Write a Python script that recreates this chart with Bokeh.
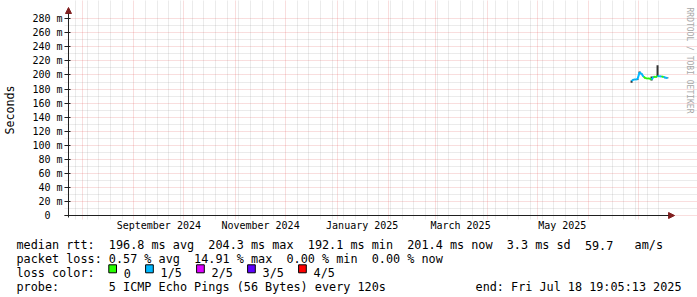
from datetime import datetime, timedelta
import math
import re
import pandas as pd
from bokeh.plotting import figure
from bokeh.layouts import column, row
from bokeh.models import (FixedTicker, DatetimeTickFormatter, Range1d, Label,
                          Arrow, NormalHead, ColumnDataSource)
from bokeh.core.properties import value
from bokeh.embed import file_html
from bokeh.resources import INLINE

# ---------------- data ----------------
graph_end = "2025-07-18 19:05:13"
graph_days = 360

sample_times = ["2025-06-26 14:00", "2025-06-27 19:00", "2025-06-28 23:00",
                "2025-06-30 04:00", "2025-07-01 09:00", "2025-07-02 14:00",
                "2025-07-03 19:00", "2025-07-04 23:00", "2025-07-06 04:00",
                "2025-07-07 09:00", "2025-07-08 14:00", "2025-07-09 19:00",
                "2025-07-10 23:00", "2025-07-12 04:00", "2025-07-13 09:00",
                "2025-07-14 14:00", "2025-07-15 19:00", "2025-07-16 23:00",
                "2025-07-18 04:00"]
median_rtt_ms = [191.5, 193.5, 193.5, 193.8, 204.0, 201.5, 197.5, 195.5, 194.8,
                 195.3, 193.5, 197.5, 197.0, 198.5, 198.2, 198.0, 197.2, 196.0,
                 195.8]
smoke_low_ms = [189.0, 193.0, 193.0, 193.3, 202.0, 201.0, 197.0, 195.0, 194.3,
                194.8, 192.0, 197.0, 196.5, 198.0, 197.7, 197.5, 196.7, 195.5,
                195.3]
smoke_high_ms = [192.0, 194.0, 194.0, 194.3, 205.0, 202.0, 198.0, 196.0, 195.3,
                 195.8, 198.0, 198.0, 197.5, 214.0, 198.7, 198.5, 197.7, 196.5,
                 196.3]
loss_index = [1, 1, 1, 1, 1, 1, 1, 0, 0, 0, 0, 1, 0, 0, 1, 1, 0, 1, 1]

loss_labels = ["0", "1/5", "2/5", "3/5", "4/5"]
loss_colors = ["#26ff00", "#00b8ff", "#dd00ff", "#5e00ff", "#ff0000"]

y_tick_values = [0, 20, 40, 60, 80, 100, 120, 140, 160, 180, 200, 220, 240, 260, 280]
y_max_ms = 287.5
month_label_days = ["2024-09-16", "2024-11-16", "2025-01-16", "2025-03-16", "2025-05-16"]

y_axis_title = "Seconds"
stat_rtt = "median rtt:  196.8 ms avg  204.3 ms max  192.1 ms min  201.4 ms now  3.3 ms sd  59.7   am/s"
stat_loss = "packet loss: 0.57 % avg  14.91 % max  0.00 % min  0.00 % now"
loss_title = "loss color:"
probe_text = "probe:       5 ICMP Echo Pings (56 Bytes) every 120s"
end_text = "end: Fri Jul 18 19:05:13 2025"
watermark = "RRDTOOL / TOBI OETIKER"

# ---------------- layout / style ----------------
W = 697
H1, H2 = 234, 63                       # graph part / legend part
DL, DR, DT, DB = 66, 668, 13, 215      # data area in page pixels
FL, FR, FT, FB = 62, 697, 0, 219       # frame in page pixels
MONO = "DejaVu Sans Mono"
AXIS_COL = "#1f1f1f"
ARROW_COL = "#801f1f"
MGRID_COL = "#de4f4f"
GRID_COL = "#8f8f8f"
EPOCH = datetime(1970, 1, 1)


def ms(d):
    return (d - EPOCH).total_seconds() * 1000.0


end_dt = datetime.strptime(graph_end, "%Y-%m-%d %H:%M:%S")
start_dt = end_dt - timedelta(days=graph_days)
xpp = (end_dt - start_dt) / (DR - DL)          # timedelta per pixel
ypp = y_max_ms / (DB - DT)                     # ms per pixel

month_starts = []
d = datetime(start_dt.year, start_dt.month, 1)
while d <= end_dt:
    if d >= start_dt:
        month_starts.append(d)
    d = datetime(d.year + (d.month // 12), d.month % 12 + 1, 1)
week_lines = []
d = datetime(start_dt.year, start_dt.month, start_dt.day)
while d <= end_dt:
    if d >= start_dt and d.weekday() == 6 and d.day != 1:
        week_lines.append(d)
    d += timedelta(days=1)

p1 = figure(width=W, height=H1, x_axis_type="datetime",
            output_backend="svg", toolbar_location=None,
            min_border_left=FL, min_border_right=W - FR,
            min_border_top=FT, min_border_bottom=H1 - FB,
            background_fill_color="white", border_fill_color="white")
p1.outline_line_color = None
p1.x_range = Range1d(start=start_dt - (DL - FL) * xpp, end=end_dt + (FR - DR) * xpp)
p1.y_range = Range1d(start=-(FB - DB) * ypp, end=y_max_ms + (DT - FT) * ypp)

# x axis (labels centred in the middle of every second month)
p1.xaxis.ticker = FixedTicker(ticks=[ms(datetime.strptime(s, "%Y-%m-%d")) for s in month_label_days])
fmt = "%B %Y"
p1.xaxis.formatter = DatetimeTickFormatter(
    microseconds=fmt, milliseconds=fmt, seconds=fmt, minsec=fmt, minutes=fmt,
    hourmin=fmt, hours=fmt, days=fmt, months=fmt, years=fmt,
    context=None, boundary_scaling=False)
p1.xaxis.major_tick_out = 0
p1.xaxis.major_tick_in = 0
p1.xaxis.minor_tick_out = 0
p1.xaxis.minor_tick_in = 0
p1.xaxis.major_label_standoff = 0
p1.xaxis.axis_line_color = None

# y axis
p1.yaxis.ticker = FixedTicker(ticks=y_tick_values,
                              minor_ticks=[v + 10 for v in y_tick_values if v + 10 < y_max_ms])
p1.yaxis.major_label_overrides = {v: (f"{v} m" if v else "0\u00a0\u00a0") for v in y_tick_values}
p1.yaxis.major_tick_out = 0
p1.yaxis.major_tick_in = DL - FL + 2
p1.yaxis.minor_tick_out = 0
p1.yaxis.minor_tick_in = 0
p1.yaxis.major_tick_line_color = AXIS_COL
p1.yaxis.major_label_standoff = 2
p1.yaxis.axis_line_color = None
p1.yaxis.axis_label = y_axis_title
p1.yaxis.axis_label_text_font = MONO
p1.yaxis.axis_label_text_font_size = "11.7px"
p1.yaxis.axis_label_text_font_style = "normal"
p1.yaxis.axis_label_text_color = "black"
p1.yaxis.axis_label_standoff = 12

for ax in (p1.xaxis, p1.yaxis):
    ax.major_label_text_font = MONO
    ax.major_label_text_font_size = "10px"
    ax.major_label_text_color = "black"

# grids, limited to the data area
p1.xgrid.ticker = FixedTicker(ticks=[ms(d) for d in month_starts],
                              minor_ticks=[ms(d) for d in week_lines])
p1.xgrid.bounds = (0, y_max_ms)
p1.ygrid.bounds = (ms(start_dt), ms(end_dt))
for g in (p1.xgrid, p1.ygrid):
    g.grid_line_color = MGRID_COL
    g.grid_line_alpha = 0.38
    g.grid_line_dash = "1 1"
    g.grid_line_width = 1
    g.minor_grid_line_color = GRID_COL
    g.minor_grid_line_alpha = 0.36
    g.minor_grid_line_dash = "1 1"
    g.minor_grid_line_width = 1

# ---------------- data glyphs ----------------
t = pd.to_datetime(sample_times)
step_ms = 1.2 * 86400 * 1000
smoke = ColumnDataSource(dict(t=t, lo=smoke_low_ms, hi=smoke_high_ms))
p1.vbar(x="t", width=step_ms, bottom="lo", top="hi", source=smoke,
        fill_color="#323232", line_color=None)
seg = ColumnDataSource(dict(
    x0=t[:-1], x1=t[1:], y0=median_rtt_ms[:-1], y1=median_rtt_ms[1:],
    c=[loss_colors[i] for i in loss_index[1:]]))
p1.segment(x0="x0", y0="y0", x1="x1", y1="y1", line_color="c", line_width=2,
           source=seg)

# ---------------- axis lines with arrows ----------------
p1.add_layout(Arrow(x_start=start_dt, y_start=-2 * ypp, x_end=start_dt, y_end=y_max_ms + 6 * ypp,
                    line_color=AXIS_COL, line_width=1,
                    end=NormalHead(size=6, fill_color=ARROW_COL, line_color=ARROW_COL)))
p1.add_layout(Arrow(x_start=start_dt - 4 * xpp, y_start=0, x_end=end_dt + 6 * xpp, y_end=0,
                    line_color=AXIS_COL, line_width=1,
                    end=NormalHead(size=6, fill_color=ARROW_COL, line_color=ARROW_COL)))

# watermark on the right
p1.add_layout(Label(x=687 - FL, y=FB - 60, x_units="screen", y_units="screen",
                    text=watermark, text_font=MONO, text_font_size="8px",
                    text_color="#a8a8a8", angle=-math.pi / 2,
                    text_align="center", text_baseline="middle"))

# ---------------- legend / statistics block ----------------
p2 = figure(width=W, height=H2, output_backend="svg", toolbar_location=None,
            x_axis_location=None, y_axis_location=None,
            min_border_left=0, min_border_right=0, min_border_top=0, min_border_bottom=0,
            background_fill_color="white", border_fill_color="white")
p2.outline_line_color = None
p2.grid.visible = False
p2.x_range = Range1d(0, W)
p2.y_range = Range1d(H2, 0)             # page pixels, measured from the top of this block

LEFT = 16
FS = 11.8
cw = 0.6021 * FS                         # monospace advance
rows_x, rows_y, rows_t = [], [], []


def add_line(s, x, base_y):
    # place each run of text at its character column (SVG collapses repeated spaces)
    for m in re.finditer(r"\S+(?: \S+)*", s):
        rows_x.append(x + m.start() * cw)
        rows_y.append(base_y - H1)
        rows_t.append(m.group())


add_line(stat_rtt, LEFT, 244.5)
add_line(stat_loss, LEFT, 258.5)
add_line(loss_title, LEFT, 272.5)
add_line(probe_text, LEFT, 286.5)

bl, br = [], []
box_x = 108.3
for lab in loss_labels:
    bl.append(box_x)
    br.append(box_x + 7.7)
    add_line(lab, box_x + 15.0, 272.5)
    box_x += 29.7 + 7.1 * len(lab)

txt = ColumnDataSource(dict(x=rows_x, y=rows_y, text=rows_t))
p2.text(x="x", y="y", text="text", source=txt, text_font=value(MONO),
        text_font_size=f"{FS}px", text_color="black", text_align="left",
        text_baseline="alphabetic")
p2.text(x=[681], y=[286.5 - H1], text=[end_text], text_font=value(MONO),
        text_font_size=f"{FS}px", text_color="black", text_align="right",
        text_baseline="alphabetic")
boxes = ColumnDataSource(dict(l=bl, r=br, t=[264.3 - H1] * len(bl), b=[272.3 - H1] * len(bl),
                              c=loss_colors))
p2.quad(left="l", right="r", top="t", bottom="b", fill_color="c", line_color="black",
        line_width=1, source=boxes)

layout = column(p1, row(p2, spacing=0), spacing=0)
open("out.html", "w").write(file_html(layout, INLINE))
